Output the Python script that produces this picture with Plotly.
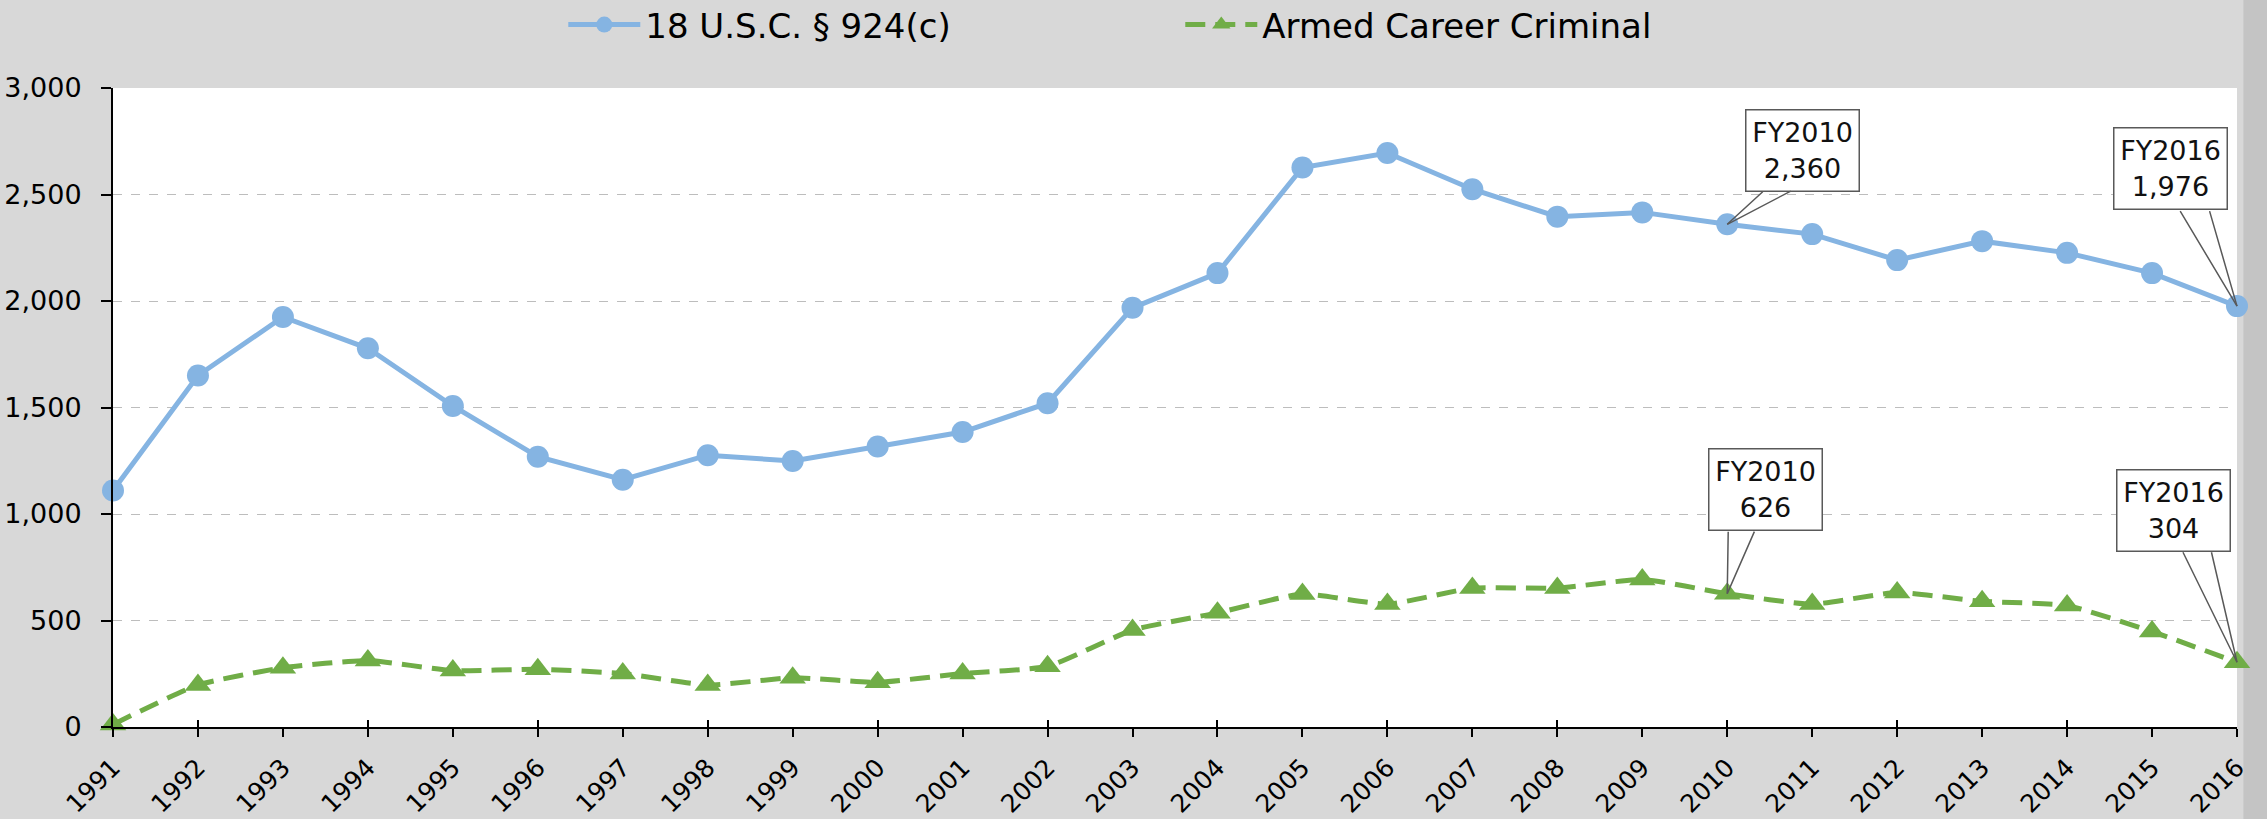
import plotly.graph_objects as go

years = list(range(1991, 2017))
usc924c = [1110, 1650, 1925, 1778, 1507, 1269, 1161, 1276, 1249, 1317, 1385, 1520,
           1968, 2131, 2627, 2695, 2525, 2396, 2416, 2360, 2314, 2192, 2281, 2226,
           2131, 1976]
acc = [12, 197, 278, 312, 265, 271, 251, 197, 231, 210, 251, 285,
       455, 536, 624, 577, 652, 652, 692, 626, 577, 631, 590, 570,
       448, 304]
y_ticks = [0, 500, 1000, 1500, 2000, 2500, 3000]
cross_ticks = [1991] + [y for y in years if y % 2 == 0]

BLUE = "#85B4E2"
GREEN = "#70AD47"
FONT = "DejaVu Sans"

fig = go.Figure()
fig.add_trace(go.Scatter(
    x=years, y=usc924c, name="18 U.S.C. § 924(c)", mode="lines+markers",
    line=dict(color=BLUE, width=5),
    marker=dict(symbol="circle", size=22, color=BLUE),
    cliponaxis=False))
fig.add_trace(go.Scatter(
    x=years, y=acc, name="Armed Career Criminal", mode="lines+markers",
    line=dict(color=GREEN, width=5, dash="20px,10px", shape="spline", smoothing=0.5),
    marker=dict(symbol="triangle-up", size=23, color=GREEN),
    cliponaxis=False))
# invisible trace for inner tick overlay axis
fig.add_trace(go.Scatter(x=[years[0]], y=[0], xaxis="x2", yaxis="y",
                         mode="markers", marker=dict(opacity=0), showlegend=False,
                         hoverinfo="skip"))

ann = []
def callout(year, val, dx, dy, w1, w2, base):
    label = f"FY{year}<br>{val:,}"
    ann.append(dict(x=year, y=val, xref="x", yref="y", text=label, showarrow=False,
                    xshift=dx, yshift=dy, bgcolor="white", bordercolor="#595959",
                    borderwidth=1.5, borderpad=5, width=102, height=70,
                    font=dict(family=FONT, size=27, color="#111111")))
    for ax in (w1, w2):
        ann.append(dict(x=year, y=val, xref="x", yref="y", text=" ", showarrow=True,
                        arrowhead=0, arrowwidth=1.5, arrowcolor="#595959",
                        ax=ax, ay=base, axref="pixel", ayref="pixel",
                        font=dict(size=1)))

callout(2010, usc924c[years.index(2010)], 75, 74, 37, 65, -34)
callout(2016, usc924c[years.index(2016)], -67, 138, -58, -28, -97)
callout(2010, acc[years.index(2010)], 38, 104, 1, 28, -64)
callout(2016, acc[years.index(2016)], -64, 152, -55, -26, -112)

fig.update_layout(
    width=2267, height=819,
    margin=dict(l=113, r=30, t=88, b=92, autoexpand=False),
    paper_bgcolor="#d8d8d8",
    plot_bgcolor="white",
    font=dict(family=FONT, color="black"),
    showlegend=True,
    legend=dict(orientation="h", x=0.212, xanchor="left", y=1.0986, yanchor="middle",
                font=dict(family=FONT, size=34, color="black"),
                bgcolor="rgba(0,0,0,0)", itemwidth=72, entrywidth=530),
    xaxis=dict(range=[1991, 2016], tickmode="array", tickvals=years,
               ticktext=[str(y) for y in years], tickangle=-45,
               tickfont=dict(family=FONT, size=25), showgrid=False,
               ticklabelstandoff=6,
               showline=True, linecolor="black", linewidth=2,
               ticks="outside", ticklen=8, tickcolor="black", tickwidth=1.5,
               zeroline=False, fixedrange=True),
    xaxis2=dict(range=[1991, 2016], overlaying="x", anchor="y", side="bottom",
                tickmode="array", tickvals=cross_ticks, showticklabels=False,
                ticks="inside", ticklen=7, tickcolor="black", tickwidth=1.5,
                showgrid=False, showline=False, zeroline=False),
    yaxis=dict(range=[0, 3000], tickmode="array", tickvals=y_ticks,
               tickformat=",", tickfont=dict(family=FONT, size=27),
               ticklabelstandoff=14,
               showgrid=True, gridcolor="#bdbdbd", griddash="dash", gridwidth=1,
               showline=True, linecolor="black", linewidth=2,
               ticks="outside", ticklen=10, tickcolor="black", tickwidth=1.5,
               zeroline=False),
    annotations=ann,
    shapes=[dict(type="rect", xref="paper", yref="paper", x0=1.003, x1=1.03,
                 y0=-0.2, y1=1.2, fillcolor="#c4c4c4", line=dict(width=0), layer="below")],
)

fig.write_html("out.html", config={"displayModeBar": False},
               post_script="document.body.style.margin='0';document.body.style.overflow='hidden';")
